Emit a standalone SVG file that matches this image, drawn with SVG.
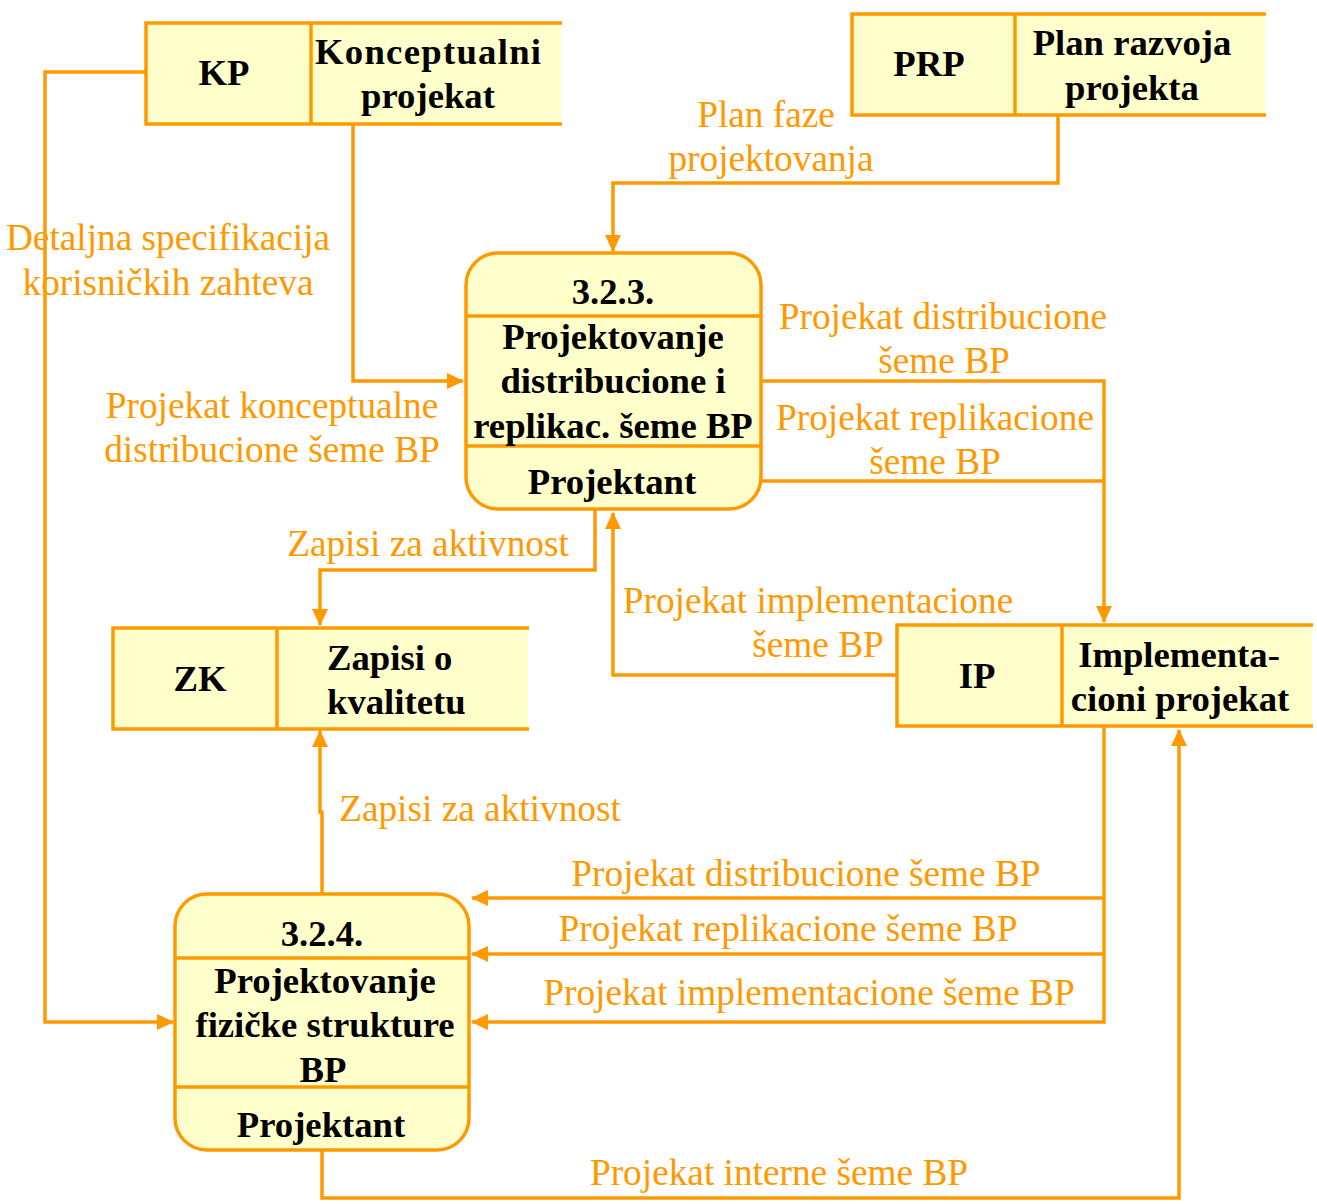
<svg xmlns="http://www.w3.org/2000/svg" width="1317" height="1204" viewBox="0 0 1317 1204">
<defs>
<style>
.fill{fill:#FFFFCC;stroke:none}
.ln{stroke:#FF9900;stroke-width:3.5;fill:none}
.proc{fill:#FFFFCC;stroke:#FF9900;stroke-width:3.5}
.nt{font-family:"Liberation Serif","Times New Roman",serif;font-weight:bold;font-size:36.7px;fill:#000;text-anchor:middle}
.lb{font-family:"Liberation Serif","Times New Roman",serif;font-size:37.3px;fill:#FF9900;text-anchor:middle}
.cn{stroke:#FF9900;stroke-width:3.5;fill:none;stroke-linejoin:miter}
</style>
<marker id="ah" markerWidth="18" markerHeight="16" refX="16" refY="8" orient="auto" markerUnits="userSpaceOnUse">
<path d="M0,0 L17,8 L0,16 Z" fill="#FF9900"/>
</marker>
</defs>
<rect width="1317" height="1204" fill="#FFFFFF"/>

<g id="connectors">
<path class="cn" d="M353,125 V381 H463" marker-end="url(#ah)"/>
<path class="cn" d="M146,72 H45 V1022 H173" marker-end="url(#ah)"/>
<path class="cn" d="M1058,116 V183 H613 V251" marker-end="url(#ah)"/>
<path class="cn" d="M762,381 H1104 V622" marker-end="url(#ah)"/>
<path class="cn" d="M762,481 H1104"/>
<path class="cn" d="M595,510 V570 H320 V625" marker-end="url(#ah)"/>
<path class="cn" d="M897,675 H613 V513" marker-end="url(#ah)"/>
<path class="cn" d="M322,894 V812 H320 V731" marker-end="url(#ah)"/>
<path class="cn" d="M1104,727 V1022 H472" marker-end="url(#ah)"/>
<path class="cn" d="M1104,898 H472" marker-end="url(#ah)"/>
<path class="cn" d="M1104,954 H472" marker-end="url(#ah)"/>
<path class="cn" d="M322,1150 V1198 H1179 V730" marker-end="url(#ah)"/>
<text class="lb" x="168" y="250">Detaljna specifikacija</text>
<text class="lb" x="168" y="295">korisničkih zahteva</text>
<text class="lb" x="272" y="418">Projekat konceptualne</text>
<text class="lb" x="272" y="462">distribucione šeme BP</text>
<text class="lb" x="766" y="127">Plan faze</text>
<text class="lb" x="771" y="171">projektovanja</text>
<text class="lb" x="943" y="329">Projekat distribucione</text>
<text class="lb" x="944" y="373">šeme BP</text>
<text class="lb" x="935" y="430">Projekat replikacione</text>
<text class="lb" x="935" y="474">šeme BP</text>
<text class="lb" x="428" y="556">Zapisi za aktivnost</text>
<text class="lb" x="818" y="613">Projekat implementacione</text>
<text class="lb" x="818" y="657">šeme BP</text>
<text class="lb" x="480" y="821">Zapisi za aktivnost</text>
<text class="lb" x="806" y="886">Projekat distribucione šeme BP</text>
<text class="lb" x="788" y="941">Projekat replikacione šeme BP</text>
<text class="lb" x="809" y="1005">Projekat implementacione šeme BP</text>
<text class="lb" x="779" y="1185">Projekat interne šeme BP</text>
</g>

<g id="KP">
<rect class="fill" x="146" y="23" width="415" height="101"/>
<path class="ln" d="M562,23 H146 V124 H562 M311,23 V124"/>
<text class="nt" x="224" y="85">KP</text>
<text class="nt" x="428" y="64" textLength="226" lengthAdjust="spacing">Konceptualni</text>
<text class="nt" x="428" y="108">projekat</text>
</g>

<g id="PRP">
<rect class="fill" x="852" y="14" width="413" height="101"/>
<path class="ln" d="M1266,14 H852 V115 H1266 M1015,14 V115"/>
<text class="nt" x="929" y="76">PRP</text>
<text class="nt" x="1132" y="55">Plan razvoja</text>
<text class="nt" x="1132" y="100">projekta</text>
</g>

<g id="ZK">
<rect class="fill" x="113" y="628" width="415" height="101"/>
<path class="ln" d="M529,628 H113 V729 H529 M277,628 V729"/>
<text class="nt" x="200" y="691">ZK</text>
<text class="nt" x="327" y="670" style="text-anchor:start">Zapisi o</text>
<text class="nt" x="327" y="714" style="text-anchor:start">kvalitetu</text>
</g>

<g id="IP">
<rect class="fill" x="897" y="625" width="415" height="101"/>
<path class="ln" d="M1313,625 H897 V726 H1313 M1062,625 V726"/>
<text class="nt" x="977" y="688">IP</text>
<text class="nt" x="1179" y="667">Implementa-</text>
<text class="nt" x="1180" y="711">cioni projekat</text>
</g>

<g id="P323">
<rect class="proc" x="466" y="253" width="295" height="256" rx="32" ry="32"/>
<path class="ln" d="M466,316 H761 M466,446 H761"/>
<text class="nt" x="613" y="304">3.2.3.</text>
<text class="nt" x="613" y="349">Projektovanje</text>
<text class="nt" x="613" y="393">distribucione i</text>
<text class="nt" x="613" y="438">replikac. šeme BP</text>
<text class="nt" x="612" y="494">Projektant</text>
</g>

<g id="P324">
<rect class="proc" x="175" y="894" width="294" height="256" rx="32" ry="32"/>
<path class="ln" d="M175,958 H469 M175,1087 H469"/>
<text class="nt" x="322" y="946">3.2.4.</text>
<text class="nt" x="325" y="993">Projektovanje</text>
<text class="nt" x="325" y="1037">fizičke strukture</text>
<text class="nt" x="323" y="1082">BP</text>
<text class="nt" x="321" y="1137">Projektant</text>
</g>
</svg>
